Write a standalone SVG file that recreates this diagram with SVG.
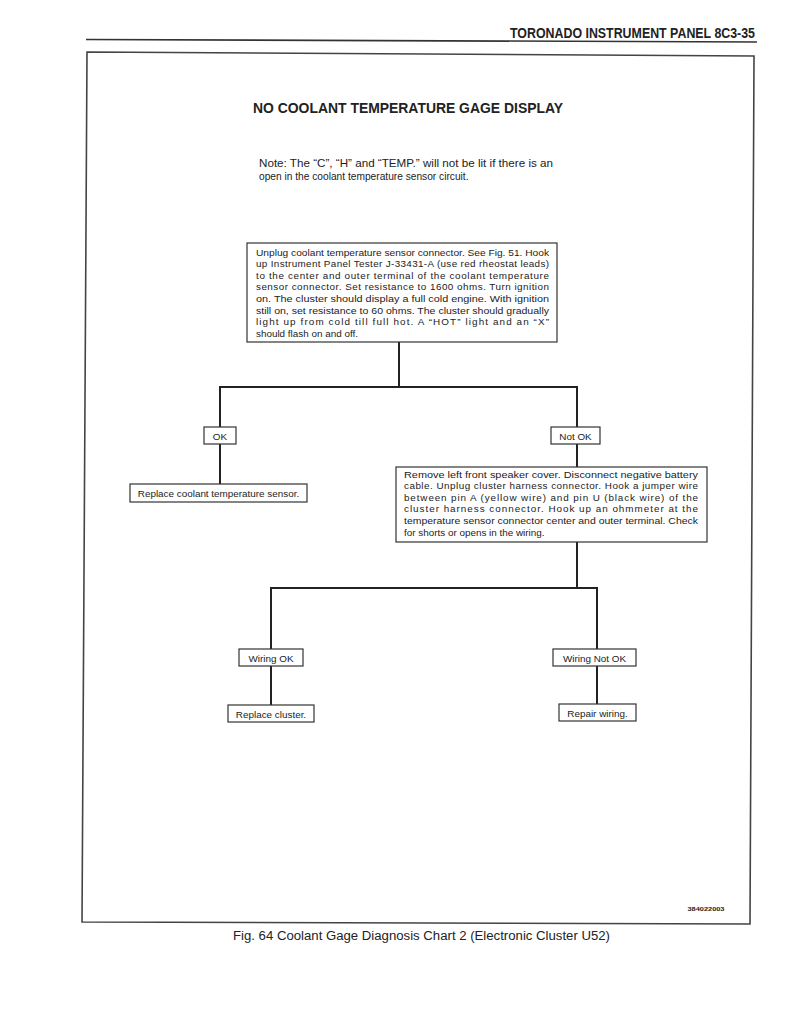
<svg xmlns="http://www.w3.org/2000/svg" width="791" height="1024" viewBox="0 0 791 1024">
<style>
.t{font-family:"Liberation Sans",Arial,sans-serif;font-size:9.9px;fill:#222}
.n{font-size:10.2px}
.c{text-anchor:middle}
.b{fill:#fff;stroke:#333;stroke-width:1.2}
.w{fill:none;stroke:#222;stroke-width:2}
.f{fill:none;stroke:#444;stroke-width:1.6}
.h{font-family:"Liberation Sans",Arial,sans-serif;font-weight:bold;fill:#222}
</style>
<rect width="791" height="1024" fill="#fff"/>
<g id="header">
<text class="h" transform="translate(510,37.5) scale(1,1.2)" x="0" y="0" font-size="12.5" textLength="245" lengthAdjust="spacingAndGlyphs">TORONADO INSTRUMENT PANEL 8C3-35</text>
<line x1="86" y1="39.5" x2="757" y2="42" stroke="#333" stroke-width="1.6"/>
</g>
<g id="frame">
<polygon class="f" points="87,52 754,56 750,924 82,922"/>
</g>
<g id="title">
<text class="h" x="253" y="113" font-size="14.5" textLength="310" lengthAdjust="spacingAndGlyphs">NO COOLANT TEMPERATURE GAGE DISPLAY</text>
</g>
<g id="note">
<text class="t n" x="259" y="167" textLength="294" lengthAdjust="spacingAndGlyphs">Note: The “C”, “H” and “TEMP.” will not be lit if there is an</text>
<text class="t n" x="259" y="179.5">open in the coolant temperature sensor circuit.</text>
</g>
<g id="connectors">
<polyline class="w" points="399,342 399,387"/>
<polyline class="w" points="220,427 220,387 577,387 577,427"/>
<line class="w" x1="220" y1="444" x2="220" y2="484"/>
<line class="w" x1="577" y1="444" x2="577" y2="467"/>
<line class="w" x1="577" y1="542" x2="577" y2="588"/>
<polyline class="w" points="271,649 271,588 597,588 597,649"/>
<line class="w" x1="271" y1="666" x2="271" y2="705"/>
<line class="w" x1="597" y1="666" x2="597" y2="704"/>
</g>
<g id="step1">
<rect class="b" x="247" y="243" width="310" height="99"/>
<text class="t" x="256" y="255.5" textLength="293" lengthAdjust="spacingAndGlyphs">Unplug coolant temperature sensor connector. See Fig. 51. Hook</text>
<text class="t" x="256" y="267.1" textLength="293" lengthAdjust="spacing">up Instrument Panel Tester J-33431-A (use red rheostat leads)</text>
<text class="t" x="256" y="278.7" textLength="293" lengthAdjust="spacing">to the center and outer terminal of the coolant temperature</text>
<text class="t" x="256" y="290.3" textLength="293" lengthAdjust="spacing">sensor connector. Set resistance to 1600 ohms. Turn ignition</text>
<text class="t" x="256" y="301.9" textLength="293" lengthAdjust="spacingAndGlyphs">on. The cluster should display a full cold engine. With ignition</text>
<text class="t" x="256" y="313.5" textLength="293" lengthAdjust="spacingAndGlyphs">still on, set resistance to 60 ohms. The cluster should gradually</text>
<text class="t" x="256" y="325.1" textLength="293" lengthAdjust="spacing">light up from cold till full hot. A “HOT” light and an “X”</text>
<text class="t" x="256" y="336.7">should flash on and off.</text>
</g>
<g id="ok">
<rect class="b" x="204" y="427" width="32" height="17"/>
<text class="t c" x="220" y="439.5">OK</text>
</g>
<g id="notok">
<rect class="b" x="551" y="427" width="49" height="17"/>
<text class="t c" x="575.5" y="439.5">Not OK</text>
</g>
<g id="replace-sensor">
<rect class="b" x="130" y="484" width="177" height="18"/>
<text class="t c" x="218.5" y="496.5">Replace coolant temperature sensor.</text>
</g>
<g id="step2">
<rect class="b" x="396" y="467" width="311" height="75"/>
<text class="t" x="404" y="477.5" textLength="294" lengthAdjust="spacingAndGlyphs">Remove left front speaker cover. Disconnect negative battery</text>
<text class="t" x="404" y="489.1" textLength="294" lengthAdjust="spacing">cable. Unplug cluster harness connector. Hook a jumper wire</text>
<text class="t" x="404" y="500.7" textLength="294" lengthAdjust="spacing">between pin A (yellow wire) and pin U (black wire) of the</text>
<text class="t" x="404" y="512.3" textLength="294" lengthAdjust="spacing">cluster harness connector. Hook up an ohmmeter at the</text>
<text class="t" x="404" y="523.9" textLength="294" lengthAdjust="spacingAndGlyphs">temperature sensor connector center and outer terminal. Check</text>
<text class="t" x="404" y="535.5">for shorts or opens in the wiring.</text>
</g>
<g id="wiring-ok">
<rect class="b" x="239" y="649" width="64" height="17"/>
<text class="t c" x="271" y="661.5">Wiring OK</text>
</g>
<g id="wiring-not-ok">
<rect class="b" x="553" y="649" width="83" height="17"/>
<text class="t c" x="594.5" y="661.5">Wiring Not OK</text>
</g>
<g id="replace-cluster">
<rect class="b" x="228" y="705" width="86" height="17"/>
<text class="t c" x="271" y="717.5">Replace cluster.</text>
</g>
<g id="repair-wiring">
<rect class="b" x="559" y="704" width="77" height="17"/>
<text class="t c" x="597.5" y="716.5">Repair wiring.</text>
</g>
<g id="code">
<text class="h" x="706" y="911" font-size="6" text-anchor="middle" textLength="37" lengthAdjust="spacingAndGlyphs">384022003</text>
</g>
<g id="caption">
<text x="233" y="940" font-family="Liberation Sans,Arial,sans-serif" font-size="12.5" fill="#222" textLength="377" lengthAdjust="spacingAndGlyphs">Fig. 64 Coolant Gage Diagnosis Chart 2 (Electronic Cluster U52)</text>
</g>
</svg>
